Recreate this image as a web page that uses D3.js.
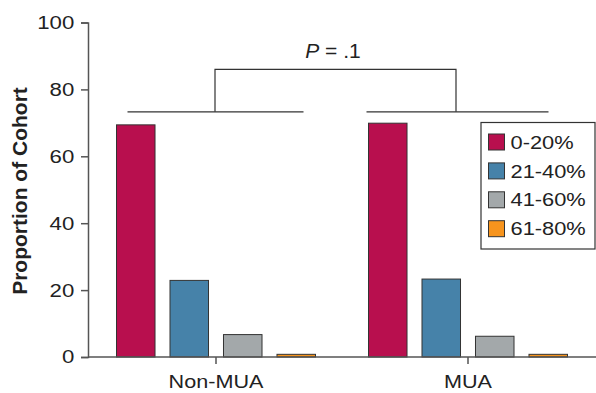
<!DOCTYPE html>
<html><head><meta charset="utf-8">
<script src="https://cdn.jsdelivr.net/npm/d3@7"></script>
<style>body{margin:0;background:#fff}svg{display:block}text{font-family:"Liberation Sans",Arial,sans-serif;fill:#222}</style>
</head><body><svg id="c" width="596" height="393"></svg>
<script>
const groups = ["Non-MUA", "MUA"];
const series = ["0-20%", "21-40%", "41-60%", "61-80%"];
const nonMUA = [69.4, 22.9, 6.7, 0.8];
const mua = [69.9, 23.3, 6.2, 0.8];
const yTicks = [0, 20, 40, 60, 80, 100];
const colors = ["#B80F4E", "#4682A9", "#A3A8AA", "#F7941D"];
const pLabel = ".1";
const values = [nonMUA, mua];

const SX = 1.2; // horizontal stretch of the source's labels
const svg = d3.select("#c");
const y = d3.scaleLinear().domain([0, 100]).range([357, 22.5]);
const x0 = d3.scaleBand().domain(groups).range([90, 594]);
const x1 = d3.scaleBand().domain(series).range([0, 199]).paddingInner(0.28);
const off = (x0.bandwidth() - 199) / 2;

// bars
groups.forEach((g, gi) => {
  svg.append("g").selectAll("rect").data(series).join("rect")
    .attr("x", s => x0(g) + off + x1(s))
    .attr("width", x1.bandwidth())
    .attr("y", (s, i) => y(values[gi][i]))
    .attr("height", (s, i) => y(0) - y(values[gi][i]))
    .attr("fill", (s, i) => colors[i])
    .attr("stroke", "#333").attr("stroke-width", 1);
});

// y axis
const ya = svg.append("g").attr("transform", "translate(88,0)")
  .call(d3.axisLeft(y).tickValues(yTicks).tickSize(7).tickPadding(7));
ya.select(".domain").attr("stroke", "#555").attr("stroke-width", 1.5);
ya.selectAll(".tick line").attr("stroke", "#555").attr("stroke-width", 1.5);
ya.selectAll(".tick text").attr("font-size", 18.5).attr("font-family", "Liberation Sans, Arial, sans-serif").attr("fill", "#222")
  .attr("x", -13.7 / SX).attr("transform", `scale(${SX},1)`);

// x axis
const xa = svg.append("g").attr("transform", `translate(0,${y(0)})`)
  .call(d3.axisBottom(x0).tickSize(7).tickPadding(11).tickSizeOuter(0));
xa.select(".domain").attr("stroke", "#555").attr("stroke-width", 1.5).attr("d", "M88,0H596");
xa.selectAll(".tick line").attr("stroke", "#555").attr("stroke-width", 1.5);
xa.selectAll(".tick text").attr("font-size", 18).attr("font-family", "Liberation Sans, Arial, sans-serif").attr("fill", "#222")
  .attr("transform", `scale(${SX},1)`);

// y title
svg.append("text").attr("transform", "translate(26.5,191) rotate(-90)")
  .attr("text-anchor", "middle").attr("font-size", 21).attr("font-weight", "bold")
  .text("Proportion of Cohort");

// bracket
const bY = y(73.3), tY = y(86);
const gL = x0(groups[0]) + off, gR = x0(groups[1]) + off;
const br = svg.append("g").attr("stroke", "#333").attr("stroke-width", 1.2).attr("fill", "none");
br.append("line").attr("x1", gL + 11).attr("x2", gL + 187).attr("y1", bY).attr("y2", bY);
br.append("line").attr("x1", gR - 2).attr("x2", gR + 180).attr("y1", bY).attr("y2", bY);
const cL = x0(groups[0]) + x0.bandwidth() / 2 - 1, cR = x0(groups[1]) + x0.bandwidth() / 2 - 12;
br.append("path").attr("d", `M${cL},${bY}V${tY}H${cR}V${bY}`);
const pt = svg.append("text").attr("x", (cL + cR) / 2 - 2.5).attr("y", 57.5).attr("text-anchor", "middle").attr("font-size", 21);
pt.append("tspan").attr("font-style", "italic").text("P");
pt.append("tspan").text(" = " + pLabel);

// legend
const lg = svg.append("g");
lg.append("rect").attr("x", 481).attr("y", 122.5).attr("width", 114).attr("height", 126.5)
  .attr("fill", "#fff").attr("stroke", "#333").attr("stroke-width", 1.2);
series.forEach((s, i) => {
  const cy = 142 + i * 28.9;
  lg.append("rect").attr("x", 488.5).attr("y", cy - 8).attr("width", 16).attr("height", 16)
    .attr("fill", colors[i]).attr("stroke", "#333").attr("stroke-width", 1);
  lg.append("text").attr("transform", `translate(510.5,${cy + 6.6}) scale(${SX},1)`)
    .attr("font-size", 18.2).text(s);
});
</script></body></html>
